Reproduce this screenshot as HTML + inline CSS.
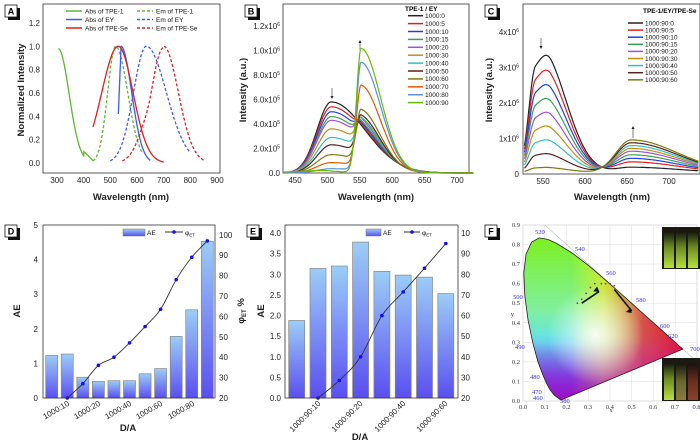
<!DOCTYPE html>
<html><head><meta charset="utf-8"><style>
html,body{margin:0;padding:0;background:#fff;}
svg{display:block;font-family:"Liberation Sans",Arial,sans-serif;}
.t{font-size:8px;fill:#222;}
.ti{font-size:9.5px;font-weight:bold;fill:#222;}
.lg{font-size:6.5px;fill:#111;}
.ax{fill:none;stroke:#333;stroke-width:0.8;}
</style></head><body>
<svg id="s" width="700" height="441" viewBox="0 0 700 441" xmlns="http://www.w3.org/2000/svg">
<defs>
<linearGradient id="bar" x1="0" y1="0" x2="0" y2="1"><stop offset="0" stop-color="#9ccdf7"/><stop offset="1" stop-color="#5a4ff0"/></linearGradient>
<linearGradient id="cieV" x1="0" y1="0" x2="0" y2="1"><stop offset="0" stop-color="#7cf020"/><stop offset="0.45" stop-color="#80f0a0"/><stop offset="0.65" stop-color="#60e0f0"/><stop offset="0.85" stop-color="#4060f0"/><stop offset="1" stop-color="#2010e0"/></linearGradient>
<linearGradient id="cieH" x1="0" y1="0" x2="1" y2="0"><stop offset="0.3" stop-color="#ff0" stop-opacity="0"/><stop offset="0.5" stop-color="#ffe020" stop-opacity="0.6"/><stop offset="0.75" stop-color="#e04040" stop-opacity="0.9"/><stop offset="1" stop-color="#e01030" stop-opacity="1"/></linearGradient>
<linearGradient id="cieB" x1="0" y1="0" x2="0" y2="1"><stop offset="0.6" stop-color="#d020d0" stop-opacity="0"/><stop offset="1" stop-color="#c010c0" stop-opacity="0.8"/></linearGradient>
<radialGradient id="cieW" cx="0.45" cy="0.6" r="0.3"><stop offset="0" stop-color="#fff" stop-opacity="0.9"/><stop offset="1" stop-color="#fff" stop-opacity="0"/></radialGradient>
<linearGradient id="vial1" x1="0" y1="0" x2="0" y2="1"><stop offset="0" stop-color="#1a2010"/><stop offset="0.4" stop-color="#6a8a20"/><stop offset="1" stop-color="#b8e040"/></linearGradient>
<linearGradient id="vial2" x1="0" y1="0" x2="0" y2="1"><stop offset="0" stop-color="#1a1a10"/><stop offset="0.5" stop-color="#6a6a30"/><stop offset="1" stop-color="#8a7a40"/></linearGradient>
<linearGradient id="vial3" x1="0" y1="0" x2="0" y2="1"><stop offset="0" stop-color="#201010"/><stop offset="0.5" stop-color="#6a3020"/><stop offset="1" stop-color="#8a4030"/></linearGradient>
</defs>

<!-- Panel A -->
<rect x="43" y="4" width="177" height="169" class="ax"/>
<g class="t" text-anchor="middle">
<text x="57" y="183">300</text><text x="83.7" y="183">400</text><text x="110.3" y="183">500</text><text x="137" y="183">600</text><text x="163.7" y="183">700</text><text x="190.3" y="183">800</text><text x="217" y="183">900</text>
</g>
<g class="t" text-anchor="end">
<text x="40" y="166">0.0</text><text x="40" y="142.7">0.2</text><text x="40" y="119.3">0.4</text><text x="40" y="96">0.6</text><text x="40" y="72.7">0.8</text><text x="40" y="49.3">1.0</text><text x="40" y="26">1.2</text>
</g>
<text class="ti" x="131" y="200" text-anchor="middle">Wavelength (nm)</text>
<text class="ti" x="24" y="90" text-anchor="middle" transform="rotate(-90 24 90)">Normalized Intensity</text>
<g id="gA"></g>
<g class="lg">
<line x1="66" y1="11" x2="82" y2="11" stroke="#5cb832" stroke-width="1.5"/><text x="85" y="13.5">Abs of TPE-1</text>
<line x1="66" y1="19.5" x2="82" y2="19.5" stroke="#3a5df0" stroke-width="1.5"/><text x="85" y="22">Abs of EY</text>
<line x1="66" y1="28" x2="82" y2="28" stroke="#dd1f1f" stroke-width="1.5"/><text x="85" y="30.5">Abs of TPE-Se</text>
<line x1="137" y1="11" x2="153" y2="11" stroke="#5cb832" stroke-width="1.5" stroke-dasharray="3,2"/><text x="156" y="13.5">Em of TPE-1</text>
<line x1="137" y1="19.5" x2="153" y2="19.5" stroke="#3a5df0" stroke-width="1.5" stroke-dasharray="3,2"/><text x="156" y="22">Em of EY</text>
<line x1="137" y1="28" x2="153" y2="28" stroke="#dd1f1f" stroke-width="1.5" stroke-dasharray="3,2"/><text x="156" y="30.5">Em of TPE-Se</text>
</g>

<!-- Panel B -->
<rect x="283" y="4" width="186" height="169" class="ax"/>
<g class="t" text-anchor="middle">
<text x="295" y="183">450</text><text x="327.4" y="183">500</text><text x="359.8" y="183">550</text><text x="392.2" y="183">600</text><text x="424.6" y="183">650</text><text x="457" y="183">700</text>
</g>
<g class="t" text-anchor="end">
<text x="280" y="176">0.0</text>
<text x="280" y="151.5">2.0x10<tspan font-size="5" dy="-3">5</tspan></text>
<text x="280" y="127">4.0x10<tspan font-size="5" dy="-3">5</tspan></text>
<text x="280" y="102.5">6.0x10<tspan font-size="5" dy="-3">5</tspan></text>
<text x="280" y="78">8.0x10<tspan font-size="5" dy="-3">5</tspan></text>
<text x="280" y="53.5">1.0x10<tspan font-size="5" dy="-3">6</tspan></text>
<text x="280" y="29">1.2x10<tspan font-size="5" dy="-3">6</tspan></text>
</g>
<text class="ti" x="376" y="200" text-anchor="middle">Wavelength (nm)</text>
<text class="ti" x="246" y="90" text-anchor="middle" transform="rotate(-90 246 90)">Intensity (a.u.)</text>
<g id="gB"></g>
<text x="405" y="11" style="font-size:6.5px;font-weight:bold">TPE-1 / EY</text>
<g id="lB" class="lg"></g>
<line x1="332" y1="88" x2="332" y2="97" stroke="#aaa" stroke-width="1.5"/><path d="M330.5,96 L333.5,96 L332,99Z" fill="#222"/>
<line x1="360" y1="42" x2="360" y2="50" stroke="#aaa" stroke-width="1.5"/><path d="M358.5,43 L361.5,43 L360,40Z" fill="#222"/>

<!-- Panel C -->
<rect x="523" y="4" width="177" height="170" class="ax"/>
<g class="t" text-anchor="middle">
<text x="543" y="184">550</text><text x="585" y="184">600</text><text x="627" y="184">650</text><text x="669" y="184">700</text>
</g>
<g class="t" text-anchor="end">
<text x="519" y="177">0</text>
<text x="519" y="141.5">1x10<tspan font-size="5" dy="-3">6</tspan></text>
<text x="519" y="106">2x10<tspan font-size="5" dy="-3">6</tspan></text>
<text x="519" y="70.5">3x10<tspan font-size="5" dy="-3">6</tspan></text>
<text x="519" y="35">4x10<tspan font-size="5" dy="-3">6</tspan></text>
</g>
<text class="ti" x="612" y="200" text-anchor="middle">Wavelength (nm)</text>
<text class="ti" x="492" y="90" text-anchor="middle" transform="rotate(-90 492 90)">Intensity (a.u.)</text>
<g id="gC"></g>
<text x="643" y="13" style="font-size:6.5px;font-weight:bold">TPE-1/EY/TPE-Se</text>
<g id="lC" class="lg"></g>
<line x1="541" y1="38" x2="541" y2="47" stroke="#aaa" stroke-width="1.5"/><path d="M539.5,46 L542.5,46 L541,49Z" fill="#222"/>
<line x1="633" y1="128" x2="633" y2="138" stroke="#aaa" stroke-width="1.5"/><path d="M631.5,129 L634.5,129 L633,126Z" fill="#222"/>

<!-- Panel D -->
<g id="gD"></g>
<rect x="43" y="225" width="172" height="173" class="ax"/>
<g class="t" text-anchor="end">
<text x="38" y="401">0</text><text x="38" y="366.4">1</text><text x="38" y="331.8">2</text><text x="38" y="297.2">3</text><text x="38" y="262.6">4</text><text x="38" y="228">5</text>
</g>
<g class="t" text-anchor="start">
<text x="219" y="401">20</text><text x="219" y="380.6">30</text><text x="219" y="360.2">40</text><text x="219" y="339.8">50</text><text x="219" y="319.4">60</text><text x="219" y="299">70</text><text x="219" y="278.6">80</text><text x="219" y="258.2">90</text><text x="219" y="237.8">100</text>
</g>
<g class="t" text-anchor="end">
<text transform="translate(70,405) rotate(-30)">1000:10</text>
<text transform="translate(101,405) rotate(-30)">1000:20</text>
<text transform="translate(132,405) rotate(-30)">1000:40</text>
<text transform="translate(163,405) rotate(-30)">1000:60</text>
<text transform="translate(195,405) rotate(-30)">1000:80</text>
</g>
<text class="ti" x="128" y="431" text-anchor="middle">D/A</text>
<text class="ti" x="20" y="311" text-anchor="middle" transform="rotate(-90 20 311)">AE</text>
<text class="ti" x="244" y="311" text-anchor="middle" transform="rotate(-90 244 311)">φ<tspan font-size="6" dy="2">ET</tspan><tspan dy="-2"> %</tspan></text>
<rect x="123" y="229" width="22" height="7" fill="url(#bar)" stroke="#777" stroke-width="0.5"/><text class="lg" x="147" y="235">AE</text>
<line x1="165" y1="232" x2="183" y2="232" stroke="#333"/><circle cx="174" cy="232" r="1.8" fill="#1010ee"/><text class="lg" x="185" y="235">φ<tspan font-size="4.5" dy="1.5">ET</tspan></text>

<!-- Panel E -->
<g id="gE"></g>
<rect x="285" y="225" width="173" height="173" class="ax"/>
<g class="t" text-anchor="end">
<text x="281" y="401">0.0</text><text x="281" y="380.4">0.5</text><text x="281" y="359.8">1.0</text><text x="281" y="339.1">1.5</text><text x="281" y="318.5">2.0</text><text x="281" y="297.9">2.5</text><text x="281" y="277.3">3.0</text><text x="281" y="256.6">3.5</text><text x="281" y="236">4.0</text>
</g>
<g class="t">
<text x="461" y="401">20</text><text x="461" y="380.4">30</text><text x="461" y="359.8">40</text><text x="461" y="339.1">50</text><text x="461" y="318.5">60</text><text x="461" y="297.9">70</text><text x="461" y="277.3">80</text><text x="461" y="256.6">90</text><text x="461" y="236">10</text>
</g>
<g class="t" text-anchor="end">
<text transform="translate(321,404) rotate(-45)">1000:90:10</text>
<text transform="translate(363,404) rotate(-45)">1000:90:20</text>
<text transform="translate(406,404) rotate(-45)">1000:90:40</text>
<text transform="translate(448,404) rotate(-45)">1000:90:60</text>
</g>
<text class="ti" x="360" y="440" text-anchor="middle">D/A</text>
<text class="ti" x="264" y="311" text-anchor="middle" transform="rotate(-90 264 311)">AE</text>
<rect x="366" y="229" width="15" height="7" fill="url(#bar)" stroke="#777" stroke-width="0.5"/><text class="lg" x="383" y="235">AE</text>
<line x1="404" y1="232" x2="420" y2="232" stroke="#333"/><circle cx="412" cy="232" r="1.8" fill="#1010ee"/><text class="lg" x="422" y="235">φ<tspan font-size="4.5" dy="1.5">ET</tspan></text>

<!-- Panel F -->
<g id="gF"></g>
<rect x="523" y="225" width="174" height="176" fill="none" stroke="#bbb" stroke-width="0.5"/>
<g style="font-size:6.5px;font-family:'Liberation Serif',serif" fill="#333" text-anchor="middle">
<text x="523" y="409">0.0</text><text x="544.7" y="409">0.1</text><text x="566.4" y="409">0.2</text><text x="588.1" y="409">0.3</text><text x="609.8" y="409">0.4</text><text x="631.5" y="409">0.5</text><text x="653.2" y="409">0.6</text><text x="674.9" y="409">0.7</text><text x="696.6" y="409">0.8</text>
<text x="611" y="412" font-size="6">x</text>
</g>
<g style="font-size:6.5px;font-family:'Liberation Serif',serif" fill="#333" text-anchor="end">
<text x="520" y="403">0.0</text><text x="520" y="383.4">0.1</text><text x="520" y="363.9">0.2</text><text x="520" y="344.3">0.3</text><text x="520" y="324.8">0.4</text><text x="520" y="305.2">0.5</text><text x="520" y="285.6">0.6</text><text x="520" y="266.1">0.7</text><text x="520" y="246.5">0.8</text><text x="520" y="227">0.9</text>
<text x="514" y="316">y</text>
</g>
<g style="font-size:6.5px;font-family:'Liberation Serif',serif" fill="#3030e0">
<text x="535" y="234">520</text><text x="575" y="251">540</text><text x="606" y="275">560</text><text x="636" y="302">580</text><text x="660" y="328">600</text><text x="668" y="338">620</text><text x="690" y="351">700</text>
<text x="513" y="299">500</text><text x="515" y="349">490</text><text x="530" y="379">480</text><text x="532" y="394">470</text><text x="533" y="400">460</text><text x="560" y="403">380</text>
</g>
<rect x="662" y="227" width="38" height="42" fill="#1a1a12"/>
<rect x="664" y="233" width="10" height="35" fill="url(#vial1)"/><rect x="676" y="233" width="10" height="35" fill="url(#vial1)"/><rect x="688" y="233" width="10" height="35" fill="url(#vial1)"/>
<rect x="662" y="358" width="38" height="43" fill="#1a1a12"/>
<rect x="664" y="364" width="10" height="36" fill="url(#vial1)"/><rect x="676" y="364" width="10" height="36" fill="url(#vial2)"/><rect x="688" y="364" width="10" height="36" fill="url(#vial3)"/>

<g id="labels"></g>
</svg>
<script>
var NS="http://www.w3.org/2000/svg";
function el(p,t,a){var e=document.createElementNS(NS,t);for(var k in a)e.setAttribute(k,a[k]);p.appendChild(e);return e;}
function g2(x,c,sl,sr){var s=x<c?sl:sr;return Math.exp(-(x-c)*(x-c)/(2*s*s));}
function path(g,f,x0,x1,X,Y,attrs){var d="";for(var x=x0;x<=x1+1e-9;x+=1){d+=(d?"L":"M")+X(x).toFixed(1)+","+Y(f(x)).toFixed(1);}attrs.d=d;attrs.fill="none";el(g,"path",attrs);}
// A
var gA=document.getElementById("gA");
var XA=function(n){return 57+(n-300)*0.26667;},YA=function(v){return 163-v*116.7;};
path(gA,function(x){var v=0.98*Math.exp(-Math.pow((x-305)/65,2)*1.3);return Math.max(v,0.02+0.08*(435-x)/35*(x>400?1:0));},305,435,XA,YA,{stroke:"#5cb832","stroke-width":1.3});
path(gA,function(x){return g2(x,520,30,45);},435,620,XA,YA,{stroke:"#5cb832","stroke-width":1.3,"stroke-dasharray":"3,2"});
path(gA,function(x){return x<540?0.42+0.56*(x-530)/10:g2(x,540,10,40);},530,650,XA,YA,{stroke:"#3a5df0","stroke-width":1.3});
path(gA,function(x){return g2(x,530,62,55);},435,700,XA,YA,{stroke:"#dd1f1f","stroke-width":1.3});
path(gA,function(x){return g2(x,635,48,75);},500,800,XA,YA,{stroke:"#3a5df0","stroke-width":1.3,"stroke-dasharray":"3,2"});
path(gA,function(x){return x<700?0.99*g2(x,700,55,1)*(1-0.15*g2(x,640,20,20)):g2(x,700,1,55);},545,850,XA,YA,{stroke:"#dd1f1f","stroke-width":1.3,"stroke-dasharray":"3,2"});
// B
var colB=["#222","#e02020","#2040e0","#3aa050","#a050e0","#c09010","#30c0c0","#5a1e1e","#7a7a10","#e05a00","#5b8ee0","#66bb00"];
var labB=["1000:0","1000:5","1000:10","1000:15","1000:20","1000:30","1000:40","1000:50","1000:60","1000:70","1000:80","1000:90"];
var dB=[5.8,5.4,5.0,4.6,4.3,3.6,2.9,2.3,1.5,0.85,0.35,0.1],aB=[0,0.4,0.8,1.2,1.6,2.1,2.6,3.2,4.2,6.6,8.8,10.1];
var gB=document.getElementById("gB"),lB=document.getElementById("lB");
var XB=function(n){return 295+(n-450)*0.648;},YB=function(v){return 173-v*12.25;};
for(var i=0;i<12;i++){(function(i){
path(gB,function(x){return dB[i]*g2(x,506,22,52)+aB[i]*g2(x,552,7,30)+0.15*(i==11&&x<520?1:0)*g2(x,480,40,20);},432,725,XB,YB,{stroke:colB[i],"stroke-width":1.2});
var y=15.7+i*7.9;el(lB,"line",{x1:408,y1:y,x2:423,y2:y,stroke:colB[i],"stroke-width":1.5});var t=el(lB,"text",{x:425,y:y+2.3});t.textContent=labB[i];})(i);}
// C
var colC=["#222","#e02020","#2040e0","#3aa050","#a050e0","#c09010","#30c0c0","#5a1e1e","#7a7a10"];
var labC=["1000:90:0","1000:90:5","1000:90:10","1000:90:15","1000:90:20","1000:90:30","1000:90:40","1000:90:50","1000:90:60"];
var dC=[3.4,2.97,2.55,2.15,1.75,1.35,0.95,0.55,0.15],aC=[0.15,0.3,0.4,0.5,0.6,0.68,0.76,0.84,0.92];
var gC=document.getElementById("gC"),lC=document.getElementById("lC");
var XC=function(n){return 543+(n-550)*0.84;},YC=function(v){return 174-v*35.5;};
for(var i=0;i<9;i++){(function(i){
path(gC,function(x){var d=dC[i]*(0.75*g2(x,541,8,30)+0.25*g2(x,560,12,25))/0.93;var a=aC[i]*g2(x,655,18,55);return d+a+0.04;},528,735,XC,YC,{stroke:colC[i],"stroke-width":1.2});
var y=23+i*7.1;el(lC,"line",{x1:628,y1:y,x2:643,y2:y,stroke:colC[i],"stroke-width":1.5});var t=el(lC,"text",{x:645,y:y+2.3});t.textContent=labC[i];})(i);}
// D
var gD=document.getElementById("gD");
var vD=[1.23,1.27,0.6,0.48,0.5,0.5,0.7,0.85,1.78,2.55,4.53];
for(var i=0;i<11;i++){var cx=51.7+i*15.56,h=vD[i]*34.6;el(gD,"rect",{x:cx-6,y:398-h,width:12,height:h,fill:"url(#bar)",stroke:"#888","stroke-width":0.7});}
var pD=[[1,20],[2,27],[3,36],[4,40],[5,47],[6,55],[7,63.5],[8,78],[9,89],[10,97]];
function curve(g,pts){var d="M"+pts[0][0]+","+pts[0][1];for(var i=0;i<pts.length-1;i++){var p0=pts[Math.max(0,i-1)],p1=pts[i],p2=pts[i+1],p3=pts[Math.min(pts.length-1,i+2)];d+="C"+(p1[0]+(p2[0]-p0[0])/6)+","+(p1[1]+(p2[1]-p0[1])/6)+" "+(p2[0]-(p3[0]-p1[0])/6)+","+(p2[1]-(p3[1]-p1[1])/6)+" "+p2[0]+","+p2[1];}el(g,"path",{d:d,fill:"none",stroke:"#333","stroke-width":0.9});pts.forEach(function(p){el(g,"circle",{cx:p[0],cy:p[1],r:1.8,fill:"#1010ee"});});}
curve(gD,pD.map(function(p){return[51.7+p[0]*15.56,398-(p[1]-20)*2.04];}));
// E
var gE=document.getElementById("gE");
var vE=[1.88,3.14,3.2,3.78,3.07,2.98,2.93,2.53];
for(var i=0;i<8;i++){var cx=296.7+i*21.3,h=vE[i]*41.25;el(gE,"rect",{x:cx-8,y:398-h,width:16,height:h,fill:"url(#bar)",stroke:"#888","stroke-width":0.7});}
var pE=[[1,20],[2,28.5],[3,40],[4,60],[5,71.5],[6,83],[7,95]];
curve(gE,pE.map(function(p){return[296.7+p[0]*21.3,398-(p[1]-20)*2.06];}));
// F
var gF=document.getElementById("gF");
for(var i=1;i<8;i++)el(gF,"line",{x1:523+i*21.75,y1:225,x2:523+i*21.75,y2:401,stroke:"#ddd","stroke-width":0.5});
for(var i=1;i<9;i++)el(gF,"line",{x1:523,y1:401-i*19.56,x2:697,y2:401-i*19.56,stroke:"#ddd","stroke-width":0.5});
var L=[[0.1741,0.005],[0.144,0.0297],[0.1241,0.0578],[0.1096,0.0868],[0.0913,0.1327],[0.0687,0.2007],[0.0454,0.295],[0.0235,0.4127],[0.0082,0.5384],[0.0039,0.6548],[0.0139,0.7502],[0.0389,0.812],[0.0743,0.8338],[0.1142,0.8262],[0.1547,0.8059],[0.2296,0.7543],[0.3016,0.6923],[0.3731,0.6245],[0.4441,0.5547],[0.5125,0.4866],[0.5752,0.4242],[0.627,0.3725],[0.6915,0.3083],[0.7347,0.2653]];
var FX=function(x){return 523+x*217.5},FY=function(y){return 401-y*195.6};
var dd="M"+L.map(function(p){return FX(p[0]).toFixed(1)+","+FY(p[1]).toFixed(1)}).join("L")+"Z";
el(gF,"line",{x1:FX(0.1),y1:FY(0.9),x2:FX(0.8),y2:FY(0.2),stroke:"#999","stroke-width":0.5});
["url(#cieV)","url(#cieH)","url(#cieB)","url(#cieW)"].forEach(function(f){el(gF,"path",{d:dd,fill:f});});
el(gF,"path",{d:dd,fill:"none",stroke:"#222","stroke-width":0.8});
[[0.25,0.5],[0.27,0.52],[0.29,0.55],[0.31,0.58],[0.33,0.6],[0.36,0.6],[0.38,0.6],[0.4,0.6],[0.42,0.59]].forEach(function(p){el(gF,"circle",{cx:FX(p[0]),cy:FY(p[1]),r:0.9,fill:"#a020a0"});});
el(gF,"path",{d:"M"+FX(0.27)+","+FY(0.5)+"L"+FX(0.35)+","+FY(0.56),stroke:"#111","stroke-width":1.6});
el(gF,"path",{d:"M"+FX(0.35)+","+FY(0.56)+"l-6,0 l4,-5z",fill:"#111"});
el(gF,"path",{d:"M"+FX(0.42)+","+FY(0.57)+"L"+FX(0.5)+","+FY(0.46),stroke:"#111","stroke-width":1.6});
el(gF,"path",{d:"M"+FX(0.5)+","+FY(0.45)+"l-6,-1 l5,-4z",fill:"#111"});
var lab=document.getElementById("labels");
[["A",5,5],["B",245,5],["C",485,5],["D",5,225],["E",247,225],["F",485,225]].forEach(function(a){
el(lab,"rect",{x:a[1]+3,y:a[2]+3,width:12,height:12,fill:"#111"});
el(lab,"rect",{x:a[1],y:a[2],width:12,height:12,fill:"#fff",stroke:"#111","stroke-width":0.8});
var t=el(lab,"text",{x:a[1]+6,y:a[2]+9.5,"text-anchor":"middle","font-size":"9","font-weight":"bold"});t.textContent=a[0];});
</script>
</body></html>
